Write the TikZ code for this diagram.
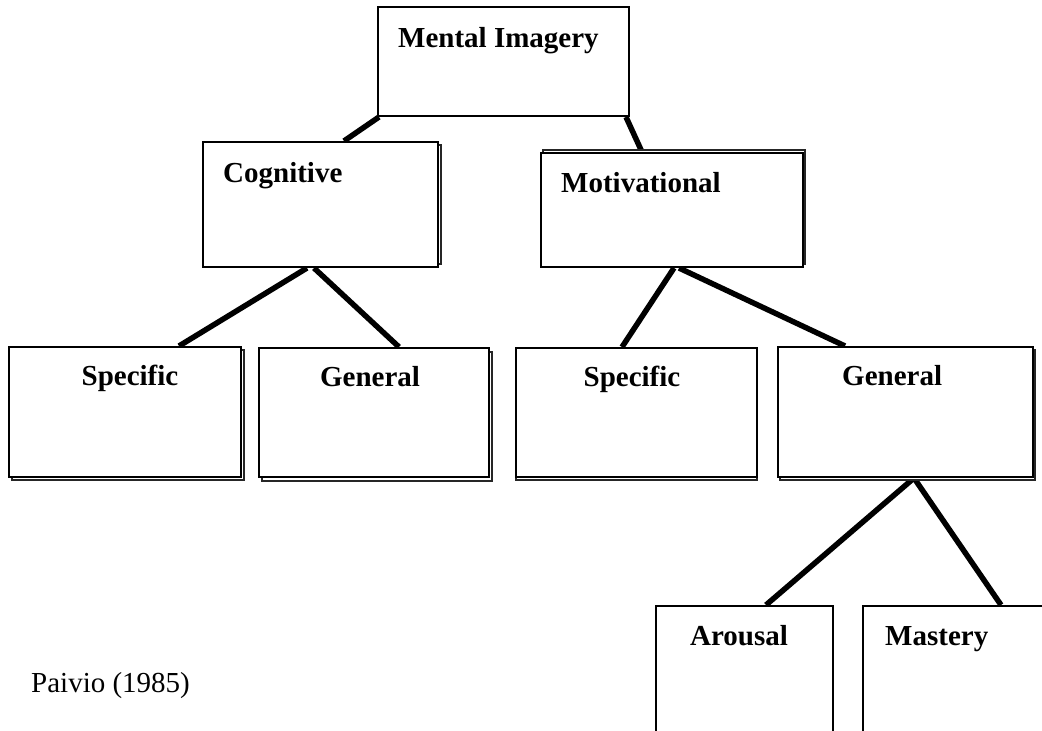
\documentclass[tikz,border=0pt]{standalone}
\usepackage{fontspec}
\setmainfont{Liberation Serif}
\usetikzlibrary{calc,backgrounds}
\begin{document}
\begin{tikzpicture}[x=1pt,y=-1pt,
  box/.style={draw=black, line width=2pt, fill=white, inner sep=0pt},
  shadowbox/.style={draw=black!85, line width=1.5pt, fill=white, inner sep=0pt},
  lbl/.style={inner sep=0pt, font=\fontsize{29}{34}\selectfont\bfseries},
  note/.style={inner sep=0pt, font=\fontsize{29}{34}\selectfont},
  link/.style={line width=5.5pt}]
\useasboundingbox (0,0) rectangle (1042,731);

% shadows
\node[shadowbox, minimum width=235pt, minimum height=119pt] (cogs) at (323.5,204.5) {};
\node[shadowbox, minimum width=262pt, minimum height=114pt] (mots) at (674,207) {};
\node[shadowbox, minimum width=232pt, minimum height=130pt] (css) at (128,415) {};
\node[shadowbox, minimum width=230pt, minimum height=129pt] (cgs) at (377,416.5) {};
\node[shadowbox, minimum width=241pt, minimum height=129pt] (mss) at (636.5,415.5) {};
\node[shadowbox, minimum width=255pt, minimum height=130pt] (mgs) at (907.5,415) {};

% boxes
\node[box, minimum width=251pt, minimum height=109pt] (mi) at (503.5,61.5) {};
\node[box, minimum width=235pt, minimum height=125pt] (cog) at (320.5,204.5) {};
\node[box, minimum width=262pt, minimum height=114pt] (mot) at (672,210) {};
\node[box, minimum width=232pt, minimum height=130pt] (cs) at (125,412) {};
\node[box, minimum width=230pt, minimum height=129pt] (cg) at (374,412.5) {};
\node[box, minimum width=241pt, minimum height=129pt] (ms) at (636.5,412.5) {};
\node[box, minimum width=255pt, minimum height=130pt] (mg) at (905.5,412) {};
\node[box, minimum width=177pt, minimum height=140pt] (ar) at (744.5,676) {};
\node[box, minimum width=190pt, minimum height=140pt] (ma) at (958,676) {};

% labels
\node[lbl, anchor=base west] (mi-t) at (398,47) {Mental Imagery};
\node[lbl, anchor=base west] (cog-t) at (223,182) {Cognitive};
\node[lbl, anchor=base west] (mot-t) at (561,192) {Motivational};
\node[lbl, anchor=base] (cs-t) at (130,385) {Specific};
\node[lbl, anchor=base] (cg-t) at (370,386) {General};
\node[lbl, anchor=base] (ms-t) at (632,386) {Specific};
\node[lbl, anchor=base west] (mg-t) at (842,385) {General};
\node[lbl, anchor=base] (ar-t) at (739,645) {Arousal};
\node[lbl, anchor=base west] (ma-t) at (885,645) {Mastery};
\node[note, anchor=base west] (src) at (31,692) {Paivio (1985)};

% connectors
\begin{pgfonlayer}{background}
\draw[link] ($(mi.south west)+(2,0)$) -- ($(cog.north west)+(142,0)$);
\draw[link] ($(mi.south east)+(-4,0)$) -- ($(mot.north west)+(102,0)$);
\draw[link] ($(cog.south west)+(105,0)$) -- ($(cs.north west)+(171,0)$);
\draw[link] ($(cog.south west)+(112,0)$) -- ($(cg.north west)+(141,0)$);
\draw[link] ($(mot.south west)+(134,0)$) -- ($(ms.north west)+(107,0)$);
\draw[link] ($(mot.south west)+(139,0)$) -- ($(mg.north west)+(68,0)$);
\draw[link] ($(mg.south west)+(137,0)$) -- ($(ar.north west)+(111,0)$);
\draw[link] ($(mg.south west)+(137,0)$) -- ($(ma.north west)+(139,0)$);
\end{pgfonlayer}
\end{tikzpicture}
\end{document}
